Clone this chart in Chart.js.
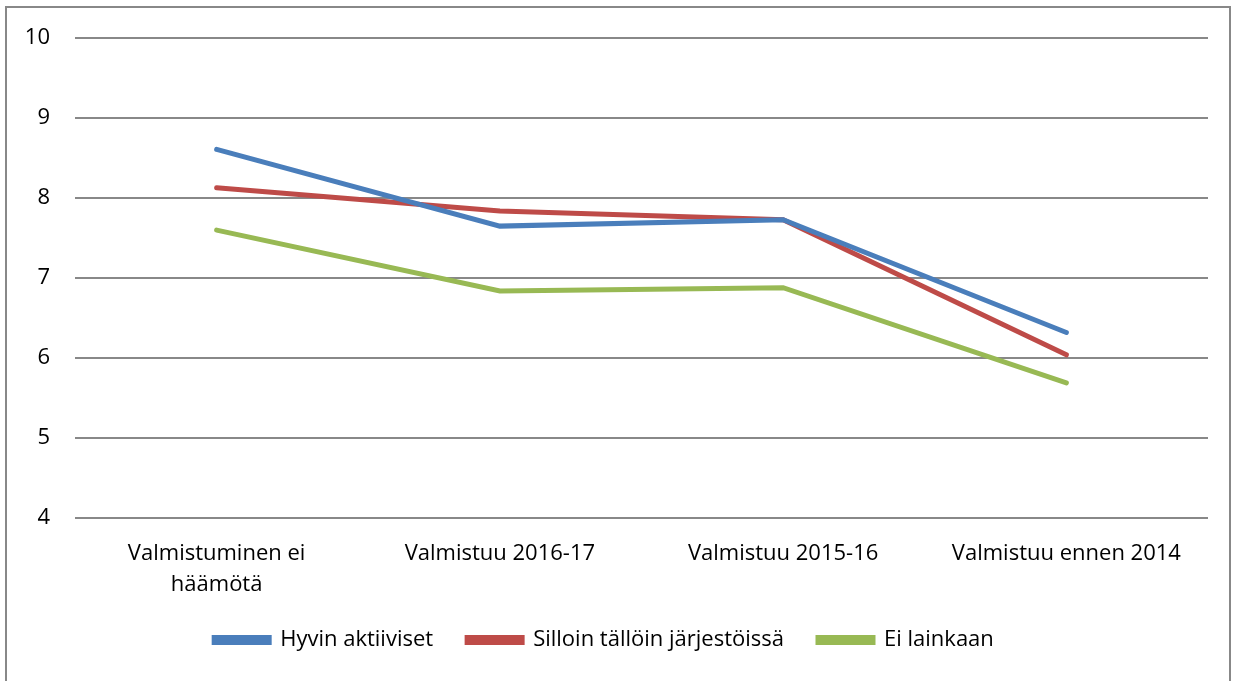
<!DOCTYPE html>
<html>
<head>
<meta charset="utf-8">
<script src="https://cdn.jsdelivr.net/npm/chart.js@4/dist/chart.umd.min.js"></script>
<style>
  html, body { margin: 0; padding: 0; background: #fff; }
  #wrap { width: 1234px; height: 681px; }
</style>
</head>
<body>
<div id="wrap"><canvas id="myChart" width="1234" height="681"></canvas></div>
<script>
var categories = [['Valmistuminen ei', 'häämötä'], 'Valmistuu 2016-17', 'Valmistuu 2015-16', 'Valmistuu ennen 2014']
var seriesNames = ['Hyvin aktiiviset', 'Silloin tällöin järjestöissä', 'Ei lainkaan']
var hyvinAktiiviset = [8.61, 7.65, 7.73, 6.32]
var silloinTalloin = [8.13, 7.84, 7.73, 6.04]
var eiLainkaan = [7.6, 6.84, 6.88, 5.69]
var colors = ['#4A7EBB', '#BE4B48', '#98B954']
var fontFamily = '"Open Sans", "Liberation Sans", sans-serif'

// white background + thin frame like the office chart
var frame = {
    id: 'frame',
    beforeDraw(chart) {
        var c = chart.ctx
        c.save()
        c.fillStyle = '#fff'
        c.fillRect(0, 0, chart.width, chart.height)
        c.strokeStyle = '#888'
        c.lineWidth = 2
        c.strokeRect(6, 7, chart.width - 10, chart.height + 10)
        c.restore()
    }
}

const ctx = document.getElementById('myChart');
var myLineChart = new Chart(ctx, {
    type: 'line',
    data: {
        labels: categories,
        datasets: [hyvinAktiiviset, silloinTalloin, eiLainkaan].map((vals, i) => ({
            label: seriesNames[i],
            data: vals,
            borderColor: colors[i],
            backgroundColor: colors[i],
            borderWidth: 5,
            borderCapStyle: 'round',
            pointRadius: 0,
            tension: 0
        }))
    },
    options: {
        responsive: false,
        animation: false,
        layout: { padding: { left: 0, top: 36, right: 26, bottom: 20 } },
        plugins: {
            legend: {
                position: 'bottom',
                labels: {
                    boxWidth: 55,
                    boxHeight: 5,
                    padding: 34,
                    color: '#000',
                    font: { family: fontFamily, size: 22 }
                }
            },
            tooltip: { enabled: false }
        },
        scales: {
            x: {
                offset: true,
                grid: { display: false, drawTicks: false },
                border: { display: false },
                ticks: {
                    color: '#000',
                    padding: 21,
                    maxRotation: 0,
                    font: { family: fontFamily, size: 22, lineHeight: 1.38 }
                },
                afterFit: s => { s.height = 77 }
            },
            y: {
                min: 4,
                max: 10,
                grid: { color: '#888', lineWidth: 2, drawTicks: false },
                border: { display: false },
                ticks: {
                    stepSize: 1,
                    color: '#000',
                    padding: 25,
                    font: { family: fontFamily, size: 22 }
                },
                afterFit: s => { s.width = 75 }
            }
        }
    },
    plugins: [frame]
});
</script>
</body>
</html>
